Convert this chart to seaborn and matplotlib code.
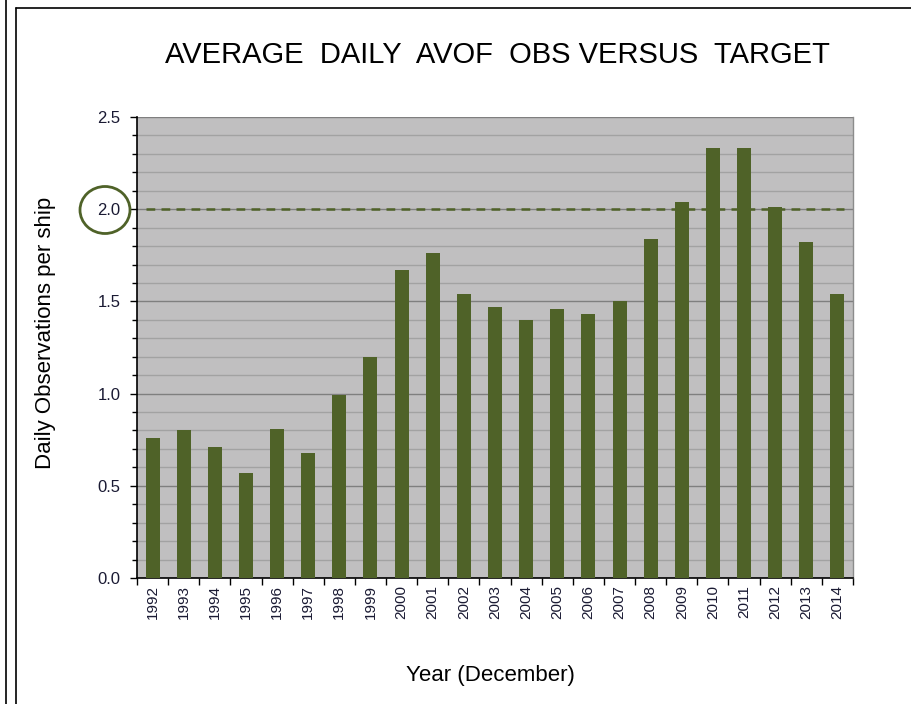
import numpy as np
import pandas as pd
import matplotlib
matplotlib.use("Agg")
import matplotlib.pyplot as plt
from matplotlib.patches import Ellipse
from matplotlib.lines import Line2D
from matplotlib.ticker import MultipleLocator, FixedLocator
import seaborn as sns

# ── data ──────────────────────────────────────────────────────────────────────
years = [str(y) for y in range(1992, 2015)]
daily_obs = [0.76, 0.80, 0.71, 0.57, 0.81, 0.68, 0.99, 1.20, 1.67, 1.76, 1.54, 1.47,
             1.40, 1.46, 1.43, 1.50, 1.84, 2.04, 2.33, 2.33, 2.01, 1.82, 1.54]
target = 2.0
y_ticks = [0.0, 0.5, 1.0, 1.5, 2.0, 2.5]

title = "AVERAGE  DAILY  AVOF  OBS VERSUS  TARGET"
xlabel = "Year (December)"
ylabel = "Daily Observations per ship"

bar_color = "#4F6228"
bg_color = "#C0BFC0"
text_color = "#1A1A33"

sns.set_theme(style="ticks")
plt.rcParams["font.family"] = ["Liberation Sans", "DejaVu Sans"]

df = pd.DataFrame({"year": years, "obs": daily_obs})

fig = plt.figure(figsize=(9.12, 7.04), dpi=100)
ax = fig.add_axes([137 / 912, 1 - 578 / 704, (853 - 137) / 912, (578 - 117) / 704])

sns.barplot(data=df, x="year", y="obs", color=bar_color, saturation=1,
            width=0.45, linewidth=0, edgecolor="none", ax=ax, zorder=3)

ax.set_facecolor(bg_color)
ax.set_xlim(-0.5, len(years) - 0.5)
ax.set_ylim(0, 2.5)

# grid: minor every 0.1, major every 0.5
ax.set_yticks(y_ticks)
ax.set_yticklabels([f"{v:.1f}" for v in y_ticks])
ax.yaxis.set_minor_locator(MultipleLocator(0.1))
ax.grid(axis="y", which="minor", color="#A2A2A2", lw=1.0, zorder=0)
ax.grid(axis="y", which="major", color="#7F7F7F", lw=1.0, zorder=0)
ax.grid(axis="x", which="both", visible=False)
ax.set_axisbelow(True)

# target line
ax.hlines(target, -0.2, len(years) - 0.8, colors=bar_color, linestyles=(0, (3.5, 2.5)),
          lw=1.8, zorder=4)

# spines
for side in ["left", "bottom"]:
    ax.spines[side].set_color("black")
    ax.spines[side].set_linewidth(1.2)
ax.spines["right"].set_color("#8C8C8C")
ax.spines["right"].set_linewidth(1.0)
ax.spines["top"].set_visible(False)

# ticks
ax.tick_params(axis="y", which="major", length=5, width=1, color="black",
               labelsize=12, labelcolor=text_color, pad=7)
ax.tick_params(axis="y", which="minor", length=3.5, width=1, color="black")
ax.xaxis.set_minor_locator(FixedLocator(np.arange(-0.5, len(years), 1.0)))
ax.tick_params(axis="x", which="major", length=0, labelsize=11, labelcolor=text_color,
               labelrotation=90, pad=5)
ax.tick_params(axis="x", which="minor", length=5, width=1, color="black")

ax.set_xlabel(xlabel, fontsize=16, color="black")
ax.set_ylabel(ylabel, fontsize=16, color="black")
ax.xaxis.set_label_coords(0.493, -0.189)
ax.yaxis.set_label_coords(-0.113, 0.531)

fig.text(497 / 912, 1 - 55 / 704, title, fontsize=21, ha="center", va="center",
         color="black")

# circle around the 2.0 label
circ = Ellipse((105 / 912, 1 - 210 / 704), 50 / 912, 47 / 704, transform=fig.transFigure,
               fill=False, edgecolor=bar_color, lw=2)
fig.add_artist(circ)

# page frame
fig.add_artist(Line2D([6 / 912, 6 / 912], [0, 1], transform=fig.transFigure, color="black", lw=1.2))
fig.add_artist(Line2D([16 / 912, 16 / 912], [0, 1 - 8 / 704], transform=fig.transFigure,
                      color="black", lw=1.2))
fig.add_artist(Line2D([16 / 912, 1], [1 - 8 / 704, 1 - 8 / 704], transform=fig.transFigure,
                      color="black", lw=1.2))

fig.savefig("out.png", dpi=100, facecolor="white")
